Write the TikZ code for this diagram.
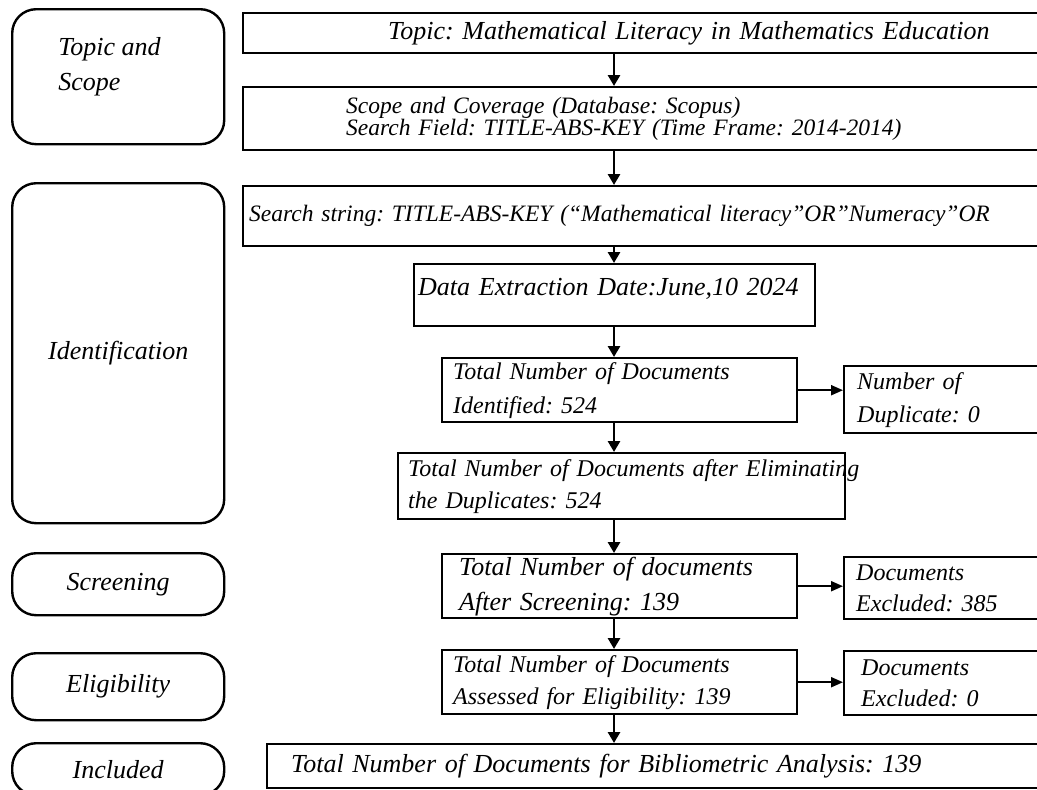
\documentclass[tikz,border=0pt]{standalone}
\usepackage{fontspec}
\setmainfont{Liberation Serif}
\usepackage{tikz}
\usetikzlibrary{positioning,arrows.meta}
\frenchspacing
\newcommand{\itf}[2]{\fontsize{#1}{#2}\selectfont\itshape}
\tikzset{
  stg/.style={rectangle,rounded corners=12pt,draw=black,line width=1.2pt,
    anchor=north west,minimum width=106pt,align=center,font=\itf{13}{16}},
  blk/.style={rectangle,draw=black,line width=1.2pt,anchor=north west,
    align=left,inner ysep=0pt},
  ar/.style={-{Triangle[length=5.5pt,width=6pt]},line width=1.4pt},
  arh/.style={-{Triangle[length=6pt,width=5pt]},line width=1pt},
  lbl/.style={align=left,inner sep=0pt,font=\itf{13}{17.5}},
}

\begin{document}
\begin{tikzpicture}[x=0.5pt,y=-0.5pt]
  \useasboundingbox (0,0) rectangle (1037,789);
  \clip (0,0) rectangle (1037,789);
  % stages
  \node[stg,minimum height=67.5pt] (tps) at (11,8) {};
  \node[lbl,below right=14.5pt and 23.5pt of tps.north west] (tpsl) {Topic and\\Scope};
  \node[stg,minimum height=170pt] (idf) at (11,182) {Identification};
  \node[stg,minimum height=31pt] (scr) at (11,552) {Screening};
  \node[stg,minimum height=33.5pt] (elg) at (11,652) {Eligibility};
  \node[stg,minimum height=26pt] (inc) at (11,742) {Included};
  % main column
  \node[blk,minimum height=20pt,inner xsep=72.5pt,text width=320pt,font=\itf{13}{16}] (topic) at (242,12)
    {Topic: Mathematical Literacy in Mathematics Education};
  \node[blk,minimum height=31.5pt,inner xsep=51.5pt,text width=330pt,font=\itf{11.75}{11}] (scope) at (242,86)
    {Scope and Coverage (Database: Scopus)\\Search Field: TITLE-ABS-KEY (Time Frame: 2014-2014)};
  \node[blk,minimum height=30pt,inner xsep=3pt,text width=400pt,font=\itf{11.75}{14}] (search) at (242,185)
    {Search string: TITLE-ABS-KEY (“Mathematical literacy”OR”Numeracy”OR};
  \node[blk,minimum height=31pt,inner xsep=2pt,text width=196.5pt,text height=9pt,text depth=9pt,
    font=\itf{13}{16}] (date) at (413,263) {Data Extraction Date:June,10 2024};
  \node[blk,minimum height=32pt,inner xsep=5.5pt,text width=166.5pt,font=\itf{12}{17}] (ident) at (441,357)
    {Total Number of Documents\\Identified: 524};
  \node[blk,minimum height=33.5pt,inner xsep=6.5pt,text width=150pt,font=\itf{12}{16.5}] (dup) at (843,365)
    {Number of\\Duplicate: 0};
  \node[blk,minimum height=33pt,inner xsep=5pt,text width=213.5pt,font=\itf{12}{16}] (elim) at (397,452)
    {\mbox{Total Number of Documents after Eliminating}\\the Duplicates: 524};
  \node[blk,minimum height=32pt,inner xsep=8.5pt,text width=160.5pt,font=\itf{13}{17.5}] (screen) at (441,553)
    {Total Number of documents\\After Screening: 139};
  \node[blk,minimum height=31pt,inner xsep=6pt,text width=150pt,font=\itf{12}{15.5}] (excl) at (843,556)
    {Documents\\Excluded: 385};
  \node[blk,minimum height=32pt,inner xsep=5.5pt,text width=166.5pt,font=\itf{12}{16}] (elig) at (441,649)
    {Total Number of Documents\\Assessed for Eligibility: 139};
  \node[blk,minimum height=32pt,inner xsep=8.5pt,text width=150pt,font=\itf{12}{15.5}] (exclb) at (843,650)
    {Documents\\Excluded: 0};
  \node[blk,minimum height=22pt,inner xsep=12pt,text width=420pt,font=\itf{13}{16}] (biblio) at (266,743)
    {Total Number of Documents for Bibliometric Analysis: 139};
  % arrows
  \coordinate (ax) at (614,0);
  \foreach \a/\b in {topic/scope,scope/search,search/date,date/ident,ident/elim,elim/screen,screen/elig,elig/biblio}
    \draw[ar] (ax |- \a.south) -- (ax |- \b.north);
  \draw[arh] (ident.east) -- (dup.west |- ident.east);
  \draw[arh] (screen.east) -- (excl.west |- screen.east);
  \draw[arh] (elig.east) -- (exclb.west |- elig.east);
\end{tikzpicture}
\end{document}
